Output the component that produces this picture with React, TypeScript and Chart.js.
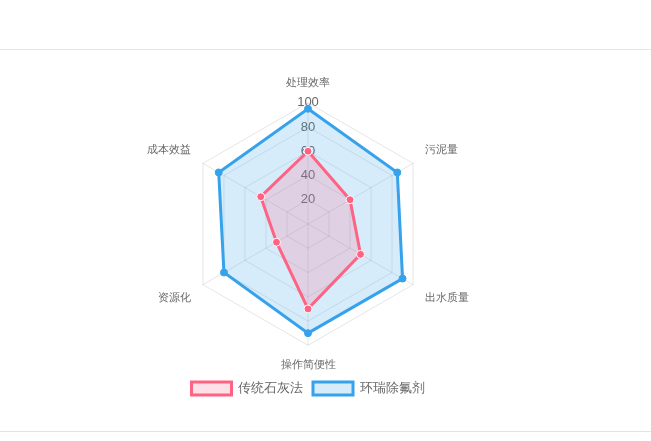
import { useEffect, useRef } from 'react'
import { Chart, registerables } from 'chart.js'

Chart.register(...registerables)

const categories = ['处理效率', '污泥量', '出水质量', '操作简便性', '资源化', '成本效益']
const limeValues = [60, 40, 50, 70, 30, 45]
const agentValues = [95, 85, 90, 90, 80, 85]
const seriesNames = ['传统石灰法', '环瑞除氟剂']

export default function App() {
  const canvasRef = useRef<HTMLCanvasElement>(null)

  useEffect(() => {
    document.body.style.margin = '0'
    if (!canvasRef.current) return
    const ctx = canvasRef.current.getContext('2d')
    if (!ctx) return

    const chart = new Chart(ctx, {
      type: 'radar',
      data: {
        labels: categories,
        datasets: [
          {
            label: seriesNames[0],
            data: limeValues,
            backgroundColor: 'rgba(255, 99, 132, 0.2)',
            borderColor: 'rgb(255, 99, 132)',
            borderWidth: 3,
            pointRadius: 4,
            pointBackgroundColor: 'rgb(255, 99, 132)',
            pointBorderColor: '#fff',
            pointBorderWidth: 1
          },
          {
            label: seriesNames[1],
            data: agentValues,
            backgroundColor: 'rgba(54, 162, 235, 0.2)',
            borderColor: 'rgb(54, 162, 235)',
            borderWidth: 3,
            pointRadius: 3.5,
            pointBackgroundColor: 'rgb(54, 162, 235)',
            pointBorderColor: 'rgb(54, 162, 235)',
            pointBorderWidth: 1
          }
        ]
      },
      options: {
        responsive: true,
        maintainAspectRatio: false,
        animation: false,
        layout: { padding: { top: 2 } },
        scales: {
          r: {
            min: 0,
            max: 100,
            angleLines: { color: 'rgba(0, 0, 0, 0.1)' },
            grid: { color: 'rgba(0, 0, 0, 0.1)' },
            pointLabels: {
              color: '#666',
              font: { size: 11 }
            },
            ticks: {
              stepSize: 20,
              color: '#666',
              font: { size: 13 },
              showLabelBackdrop: false
            }
          }
        },
        plugins: {
          legend: {
            position: 'bottom',
            labels: {
              color: '#666',
              font: { size: 13 }
            }
          },
          tooltip: { enabled: false }
        }
      }
    })

    return () => {
      chart.destroy()
    }
  }, [])

  return (
    <div style={{ paddingTop: 8 }}>
      <div style={{ height: 41, borderBottom: '1px solid #e6e6e6' }} />
      <div style={{ paddingTop: 24, paddingBottom: 26, paddingLeft: 8, borderBottom: '1px solid #e2e2ea' }}>
        <div style={{ position: 'relative', width: 600, height: 331 }}>
          <canvas ref={canvasRef} />
        </div>
      </div>
    </div>
  )
}
